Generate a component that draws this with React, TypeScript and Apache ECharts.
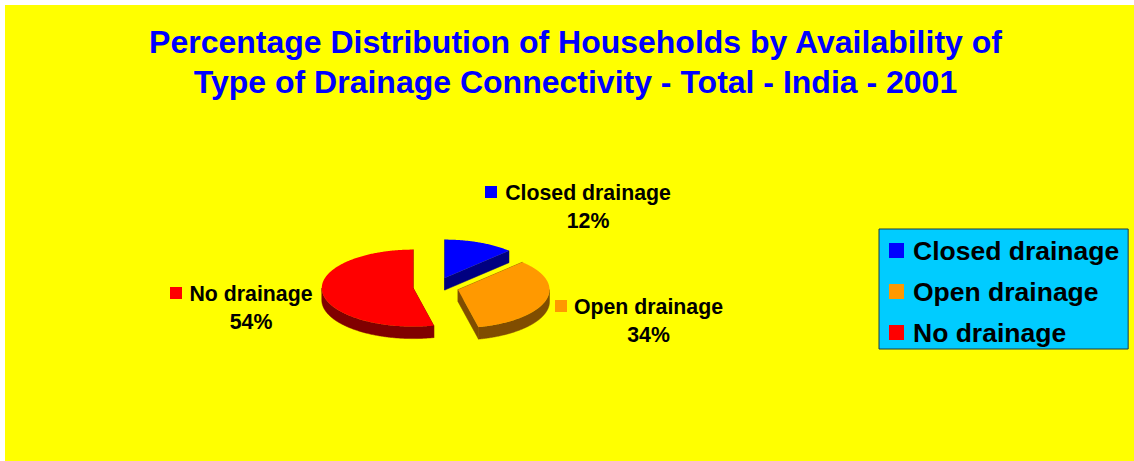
import React, { useEffect, useRef } from "react";
import * as echarts from "echarts";

const categories = ["Closed drainage", "Open drainage", "No drainage"];
const percents = [12.4, 34, 53.6];
const topColors = ["#0000FF", "#FF9900", "#FF0000"];
const sideColors = ["#000080", "#804D00", "#800000"];
const titleLines = [
  "Percentage Distribution of Households by Availability of",
  "Type of Drainage Connectivity - Total - India - 2001",
];

const FONT = "'Liberation Sans', Arial, sans-serif";
const PIE = { cx: 436, cy: 287, rx: 91.5, ry: 38.5, depth: 12, explode: 0.25 };
// Text-block placement per slice: swatch left edge, swatch centre y, text centre x
const labelPlaces = [
  { swatchX: 485, lineY: 192, swatchSize: 12, textX: 588 },
  { swatchX: 555, lineY: 306, swatchSize: 12, textX: 648.5 },
  { swatchX: 170, lineY: 293, swatchSize: 12, textX: 251 },
];

const total = percents.reduce((a, b) => a + b, 0);

function rimPoint(cx: number, cy: number, deg: number): [number, number] {
  const r = (deg * Math.PI) / 180;
  return [cx + PIE.rx * Math.sin(r), cy - PIE.ry * Math.cos(r)];
}

function arcPoints(cx: number, cy: number, from: number, to: number) {
  const pts: [number, number][] = [];
  const n = Math.max(2, Math.ceil((to - from) * 1.5));
  for (let i = 0; i <= n; i++) pts.push(rimPoint(cx, cy, from + ((to - from) * i) / n));
  return pts;
}

function sliceRender(index: number) {
  return (_params: any, api: any) => {
    const value = api.value(0) as number;
    const before = percents.slice(0, index).reduce((a, b) => a + b, 0);
    const start = (before / total) * 360;
    const end = ((before + value) / total) * 360;
    const mid = (start + end) / 2;
    const midRad = (mid * Math.PI) / 180;
    const ax = PIE.cx + PIE.explode * PIE.rx * Math.sin(midRad);
    const ay = PIE.cy - PIE.explode * PIE.ry * Math.cos(midRad);
    const d = PIE.depth;
    const side = sideColors[index];
    const children: any[] = [];

    const quad = (deg: number) => {
      const p = rimPoint(ax, ay, deg);
      children.push({
        type: "polygon",
        shape: { points: [[ax, ay], p, [p[0], p[1] + d], [ax, ay + d]] },
        style: { fill: side, stroke: side, lineWidth: 0.5 },
      });
    };
    quad(start);
    quad(end);

    const fFrom = Math.max(start, 90);
    const fTo = Math.min(end, 270);
    if (fTo > fFrom) {
      const upper = arcPoints(ax, ay, fFrom, fTo);
      const lower = upper.map(([x, y]) => [x, y + d]).reverse();
      children.push({
        type: "polygon",
        shape: { points: [...upper, ...lower] },
        style: { fill: side, stroke: side, lineWidth: 0.5 },
      });
    }

    children.push({
      type: "polygon",
      shape: { points: [[ax, ay], ...arcPoints(ax, ay, start, end)] },
      style: { fill: topColors[index] },
    });

    const place = labelPlaces[index];
    children.push({
      type: "rect",
      shape: {
        x: place.swatchX,
        y: place.lineY - place.swatchSize / 2,
        width: place.swatchSize,
        height: place.swatchSize,
      },
      style: { fill: topColors[index] },
    });
    const textStyle = {
      fill: "#000000",
      fontFamily: FONT,
      fontWeight: "bold",
      fontSize: 21.3,
      align: "center",
      verticalAlign: "middle",
    };
    children.push({
      type: "text",
      x: place.textX,
      y: place.lineY + 1,
      style: { ...textStyle, text: categories[index] },
    });
    children.push({
      type: "text",
      x: place.textX,
      y: place.lineY + 29,
      style: { ...textStyle, text: `${Math.round(value)}%` },
    });

    return { type: "group", children };
  };
}

export default function App() {
  const ref = useRef<HTMLDivElement>(null);
  useEffect(() => {
    document.body.style.margin = "0";
    const chart = echarts.init(ref.current!, null, { renderer: "svg" });
    chart.setOption({
      animation: false,
      backgroundColor: "#FFFFFF",
      graphic: [
        {
          type: "rect",
          z: -10,
          silent: true,
          shape: { x: 5, y: 5, width: 1129, height: 456 },
          style: { fill: "#FFFF00" },
        },
      ],
      title: {
        text: titleLines.join("\n"),
        left: 570.5,
        top: 17,
        textAlign: "center",
        textStyle: {
          color: "#0000FF",
          fontFamily: FONT,
          fontWeight: "bold",
          fontSize: 32,
          lineHeight: 40,
        },
      },
      legend: {
        orient: "vertical",
        left: 879,
        top: 229,
        padding: [8, 9, 3, 10],
        backgroundColor: "#00CCFF",
        borderColor: "#1F3A40",
        borderWidth: 1,
        borderRadius: 0,
        icon: "rect",
        itemWidth: 15,
        itemHeight: 15,
        itemGap: 14,
        selectedMode: false,
        data: categories,
        textStyle: {
          color: "#000000",
          fontFamily: FONT,
          fontWeight: "bold",
          fontSize: 26.5,
          lineHeight: 26,
          padding: [0, 0, 0, 4],
        },
      },
      series: categories.map((name, i) => ({
        type: "custom",
        name,
        coordinateSystem: "none",
        silent: true,
        itemStyle: { color: topColors[i] },
        data: [[percents[i]]],
        renderItem: sliceRender(i),
      })),
    });
    return () => chart.dispose();
  }, []);
  return <div ref={ref} style={{ width: 1134, height: 461 }} />;
}
